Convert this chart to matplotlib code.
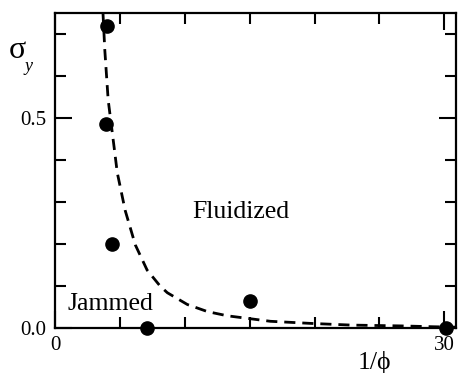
import matplotlib
matplotlib.use("Agg")
import matplotlib.pyplot as plt
from matplotlib.ticker import FixedLocator

plt.rcParams['font.family'] = ['Liberation Serif', 'DejaVu Serif']
plt.rcParams['mathtext.fontset'] = 'stix'

# measured points
inv_phi = [4.0, 3.95, 4.4, 7.1, 15.0, 30.1]
sigma_y = [0.72, 0.486, 0.20, 0.0, 0.065, 0.0]

# dashed curve
curve_x = [3.7, 3.84, 4.1, 4.56, 4.8, 5.41, 6.19, 7.1, 8.1, 8.66, 10.2,
           11.76, 13.3, 16.6, 19.7, 22.8, 26.7, 29.2, 31.0]
curve_y = [0.75, 0.662, 0.543, 0.43, 0.37, 0.28, 0.198, 0.138, 0.1, 0.084,
           0.056, 0.039, 0.029, 0.016, 0.011, 0.007, 0.005, 0.003, 0.002]

fig = plt.figure(figsize=(4.58, 3.73), dpi=100)
ax = fig.add_axes([0.12, 0.1206, 0.8756, 0.8445])

ax.plot(curve_x, curve_y, color='black', lw=2.0, ls=(0, (4, 2.5)))
ax.plot(inv_phi, sigma_y, 'o', color='black', ms=9.5, clip_on=False, zorder=5)

ax.set_xlim(0, 30.9)
ax.set_ylim(0, 0.75)
ax.xaxis.set_major_locator(FixedLocator([0, 30]))
ax.xaxis.set_minor_locator(FixedLocator([5, 10, 15, 20, 25]))
ax.yaxis.set_major_locator(FixedLocator([0, 0.5]))
ax.yaxis.set_minor_locator(FixedLocator([0.1, 0.2, 0.3, 0.4, 0.6, 0.7]))
ax.set_xticklabels(['0', '30'])
ax.set_yticklabels(['0.0', '0.5'])

ax.tick_params(which='both', direction='in', top=True, right=True,
               width=1.5, labelsize=15)
ax.tick_params(which='major', length=12, pad=6)
ax.tick_params(which='minor', length=8)
for s in ax.spines.values():
    s.set_linewidth(1.6)

ax.text(14.3, 0.277, 'Fluidized', fontsize=18.5, ha='center', va='center')
ax.text(1.0, 0.058, 'Jammed', fontsize=18.5, ha='left', va='center')

fig.text(0.037, 0.865, 'σ', fontsize=23, ha='center', va='center')
fig.text(0.053, 0.822, 'y', fontsize=13, style='italic', ha='left', va='center')
fig.text(0.818, 0.028, '1/ϕ', fontsize=18.5, ha='center', va='center')

fig.savefig('out.png', dpi=100)
